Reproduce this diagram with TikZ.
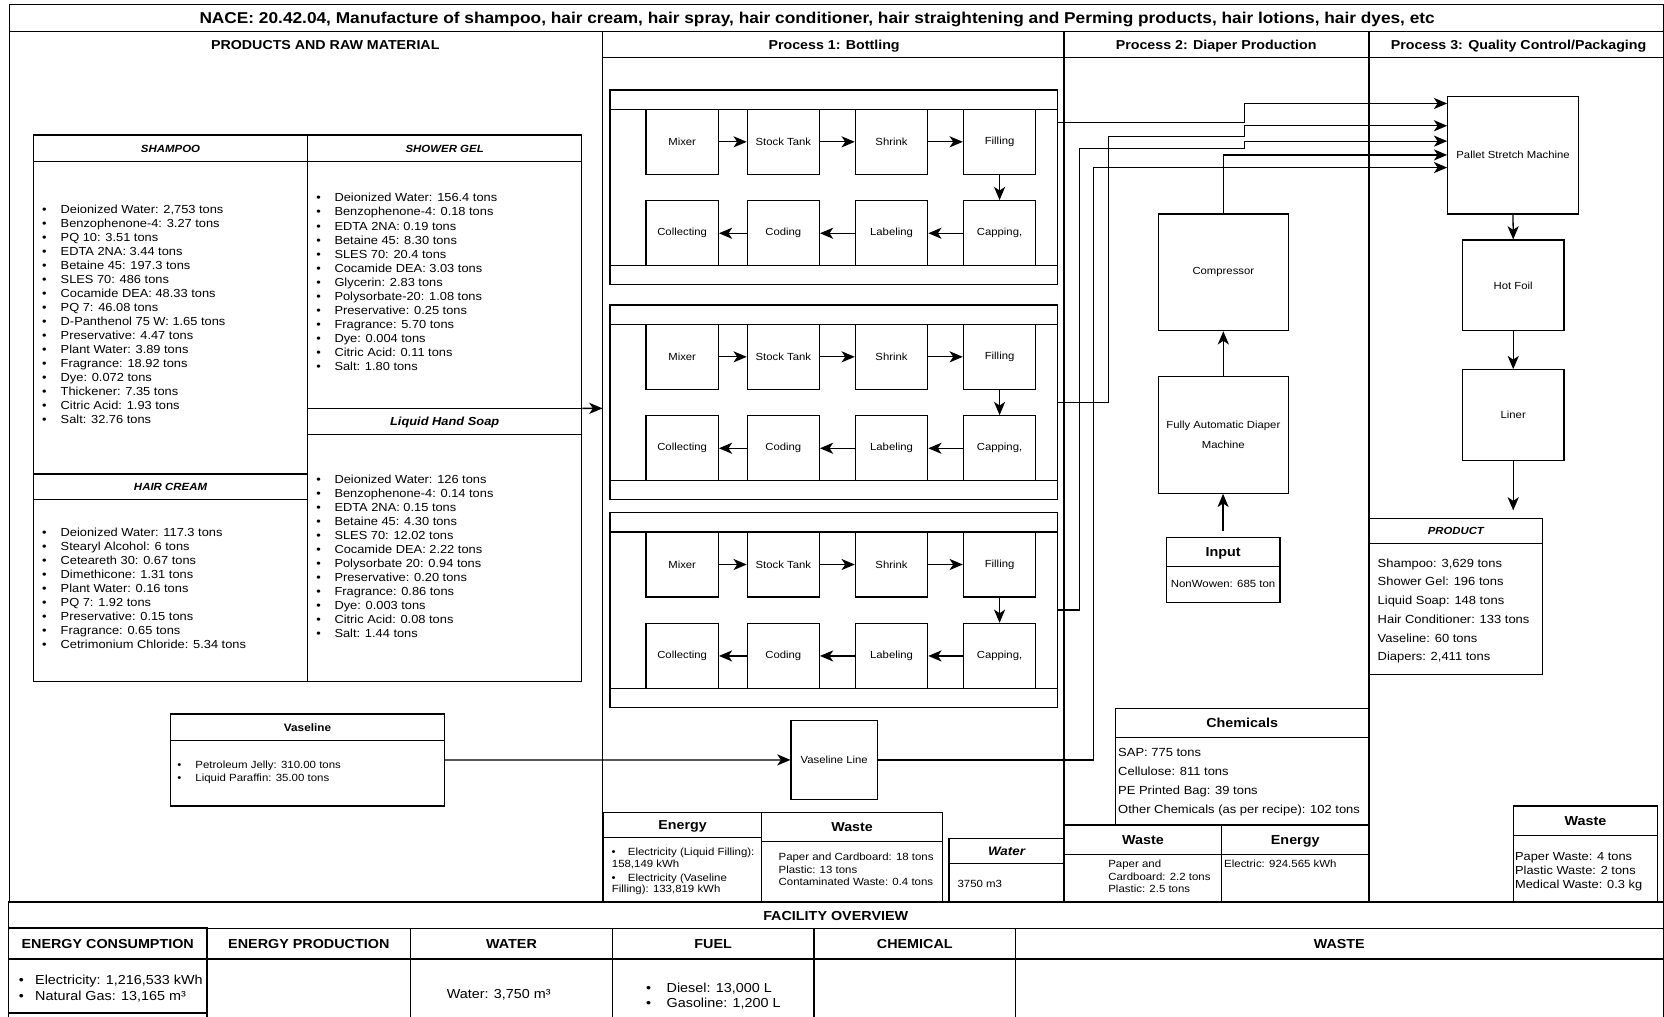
\documentclass[tikz,border=0pt]{standalone}
\usepackage{fontspec}
\setmainfont{Liberation Sans}[FakeStretch=1.1]
\usetikzlibrary{arrows.meta}

\newcommand\fsz[1]{\fontsize{#1}{#1}\selectfont}
% rectangle node from its corners: [opts]{name}{x1}{y1}{x2}{y2}{text}
\newcommand\rbox[7][]{%
  \pgfmathsetmacro\rbw{(#5)-(#3)}\pgfmathsetmacro\rbh{(#6)-(#4)}%
  \pgfmathsetmacro\rbx{((#3)+(#5))/2}\pgfmathsetmacro\rby{((#4)+(#6))/2}%
  \node[box,minimum width=\rbw pt,minimum height=\rbh pt,#1] (#2) at (\rbx,\rby) {#7};}
% one line of text, centred / left aligned on the middle of its capitals
\newcommand\lab[6][]{\node[inner sep=0pt,anchor=base,font=\fsz{#3}#1] (#2) at (#4,{#5+0.36*#3}) {#6};}
\newcommand\labl[6][]{\node[inner sep=0pt,anchor=base west,font=\fsz{#3}#1] (#2) at (#4,{#5+0.36*#3}) {#6};}
% bulleted list: {name}{size}{bullet x}{text x}{first line y}{line step}{items}
\newcommand\blist[7]{%
  \foreach \t [count=\i] in {#7} {%
    \pgfmathsetmacro\rby{#5+0.36*#2+(\i-1)*#6}%
    \node[item,font=\fsz{#2}] (#1-b\i) at (#3,\rby) {\textbullet};
    \node[item,font=\fsz{#2}] (#1-\i) at (#4,\rby) {\t};
  }}
% plain list: {name}{size}{text x}{first line y}{line step}{items}
\newcommand\plist[6]{%
  \foreach \t [count=\i] in {#6} {%
    \pgfmathsetmacro\rby{#4+0.36*#2+(\i-1)*#5}%
    \node[item,font=\fsz{#2}] (#1-\i) at (#3,\rby) {\t};
  }}

\begin{document}
\begin{tikzpicture}[x=1pt,y=-1pt,
  frm/.style={line width=1.2pt},
  ln/.style={line width=1.1pt},
  box/.style={draw,line width=1.1pt,inner sep=0pt,align=center,font=\fsz{9.7}},
  arr/.style={line width=1.2pt,-{Stealth[length=12.5pt,width=10.5pt,inset=3.5pt]}},
  item/.style={inner sep=0pt,anchor=base west},
]
\useasboundingbox (0,0) rectangle (1568,958);

% ---------- frame, title and column headings ----------
\draw[frm] (9,4.4) rectangle (1567.5,850);
\draw[frm] (9,29.9) -- (1567.5,29.9);
\draw[frm] (567.7,29.9) -- (567.7,850) (1002.7,29.9) -- (1002.7,850) (1289.9,29.9) -- (1289.9,850);
\draw[frm] (567.7,54) -- (1567.5,54);
\lab[\bfseries]{title}{14.8}{770}{17.2}{NACE: 20.42.04, Manufacture of shampoo, hair cream, hair spray, hair conditioner, hair straightening and Perming products, hair lotions, hair dyes, etc}
\lab[\bfseries]{hraw}{12.2}{306.5}{42.3}{PRODUCTS AND RAW MATERIAL}
\lab[\bfseries]{hp1}{12.2}{786}{42.3}{Process 1: Bottling}
\lab[\bfseries]{hp2}{12.2}{1146}{42.3}{Process 2: Diaper Production}
\lab[\bfseries]{hp3}{12.2}{1431}{42.3}{Process 3: Quality Control/Packaging}

% ---------- raw material tables ----------
\rbox{rawtab}{31.6}{127.2}{548.3}{642.4}{}
\draw[ln] (289.8,127.2) -- (289.8,642.4);
\draw[ln] (31.6,152.4) -- (548.3,152.4);
\draw[ln] (31.6,446.7) -- (289.8,446.7) (31.6,470.5) -- (289.8,470.5);
\draw[ln] (289.8,384.8) -- (548.3,384.8) (289.8,409.3) -- (548.3,409.3);
\lab[\bfseries\itshape]{tsh}{9.8}{160.7}{139.8}{SHAMPOO}
\lab[\bfseries\itshape]{tsg}{9.8}{419}{139.8}{SHOWER GEL}
\lab[\bfseries\itshape]{thc}{9.8}{160.7}{458.6}{HAIR CREAM}
\lab[\bfseries\itshape]{tls}{11}{419}{397}{Liquid Hand Soap}

\blist{sh}{11}{39.6}{57}{197.3}{13.2}{{Deionized Water: 2,753 tons},{Benzophenone-4: 3.27 tons},{PQ 10: 3.51 tons},{EDTA 2NA: 3.44 tons},{Betaine 45: 197.3 tons},{SLES 70: 486 tons},{Cocamide DEA: 48.33 tons},{PQ 7: 46.08 tons},{D-Panthenol 75 W: 1.65 tons},{Preservative: 4.47 tons},{Plant Water: 3.89 tons},{Fragrance: 18.92 tons},{Dye: 0.072 tons},{Thickener: 7.35 tons},{Citric Acid: 1.93 tons},{Salt: 32.76 tons}}
\blist{sg}{11}{298}{315}{186.3}{13.25}{{Deionized Water: 156.4 tons},{Benzophenone-4: 0.18 tons},{EDTA 2NA: 0.19 tons},{Betaine 45: 8.30 tons},{SLES 70: 20.4 tons},{Cocamide DEA: 3.03 tons},{Glycerin: 2.83 tons},{Polysorbate-20: 1.08 tons},{Preservative: 0.25 tons},{Fragrance: 5.70 tons},{Dye: 0.004 tons},{Citric Acid: 0.11 tons},{Salt: 1.80 tons}}
\blist{hc}{11}{39.6}{57}{501.6}{13.16}{{Deionized Water: 117.3 tons},{Stearyl Alcohol: 6 tons},{Ceteareth 30: 0.67 tons},{Dimethicone: 1.31 tons},{Plant Water: 0.16 tons},{PQ 7: 1.92 tons},{Preservative: 0.15 tons},{Fragrance: 0.65 tons},{Cetrimonium Chloride: 5.34 tons}}
\blist{ls}{11}{298}{315}{451.4}{13.22}{{Deionized Water: 126 tons},{Benzophenone-4: 0.14 tons},{EDTA 2NA: 0.15 tons},{Betaine 45: 4.30 tons},{SLES 70: 12.02 tons},{Cocamide DEA: 2.22 tons},{Polysorbate 20: 0.94 tons},{Preservative: 0.20 tons},{Fragrance: 0.86 tons},{Dye: 0.003 tons},{Citric Acid: 0.08 tons},{Salt: 1.44 tons}}

% Vaseline raw material
\rbox{vastab}{160.6}{672.8}{419}{759.5}{}
\draw[ln] (160.6,698) -- (419,698);
\lab[\bfseries]{tvas}{10.1}{289.8}{685.4}{Vaseline}
\blist{vs}{9.8}{167}{184}{720.2}{12.3}{{Petroleum Jelly: 310.00 tons},{Liquid Paraffin: 35.00 tons}}

% ---------- Process 1: three bottling lines ----------
\foreach \T [count=\k] in {84.8,287.4,483.1} {
  \rbox{lane\k}{574.8}{\T}{996.3}{\T+183.6}{}
  \draw[ln] (574.8,{\T+18.2}) -- (996.3,{\T+18.2}) (574.8,{\T+165.7}) -- (996.3,{\T+165.7});
  \foreach \n/\a/\b/\s in {mix/608.7/676.9/Mixer,stk/704.2/772.1/Stock Tank,shr/806/874.2/Shrink,fil/907.8/976/Filling}
    {\rbox{\n\k}{\a}{\T+18.2}{\b}{\T+79.5}{\s}}
  \foreach \n/\a/\b/\s in {col/608.7/676.9/Collecting,cod/704.2/772.1/Coding,lab/806/874.2/Labeling,cap/907.8/976/{Capping,}}
    {\rbox{\n\k}{\a}{\T+104.3}{\b}{\T+165.7}{\s}}
  \draw[arr] (mix\k) -- (stk\k);
  \draw[arr] (stk\k) -- (shr\k);
  \draw[arr] (shr\k) -- (fil\k);
  \draw[arr] (fil\k) -- (cap\k);
  \draw[arr] (cap\k) -- (lab\k);
  \draw[arr] (lab\k) -- (cod\k);
  \draw[arr] (cod\k) -- (col\k);
}
\rbox{vline}{745.4}{679.1}{826.7}{753}{Vaseline Line}

% Process 1 energy, waste, water
\rbox{en1}{568.8}{765.8}{717.7}{850}{}
\draw[ln] (568.8,789.4) -- (717.7,789.4);
\lab[\bfseries]{ten1}{12.2}{643.2}{777.6}{Energy}
\labl{en1-b1}{9.8}{576.1}{802.6}{\textbullet}
\labl{en1-1}{9.8}{591.5}{802.6}{Electricity (Liquid Filling):}
\labl{en1-2}{9.8}{576.4}{813.5}{158,149 kWh}
\labl{en1-b3}{9.8}{576.1}{826.7}{\textbullet}
\labl{en1-3}{9.8}{591.5}{826.7}{Electricity (Vaseline}
\labl{en1-4}{9.8}{576.4}{837.7}{Filling): 133,819 kWh}

\rbox{ws1}{717.7}{765.5}{888}{850}{}
\draw[ln] (717.7,793.1) -- (888,793.1);
\lab[\bfseries]{tws1}{12.2}{802.9}{779.3}{Waste}
\plist{ws1}{9.8}{733.5}{807.4}{11.75}{{Paper and Cardboard: 18 tons},{Plastic: 13 tons},{Contaminated Waste: 0.4 tons}}

\rbox{wt1}{894.3}{790}{1002.7}{850}{}
\draw[ln] (894.3,813.5) -- (1002.7,813.5);
\lab[\bfseries\itshape]{twt1}{11.5}{948.5}{801.8}{Water}
\labl{wt1-1}{9.8}{902.1}{832.4}{3750 m3}

% ---------- Process 2: diaper line ----------
\rbox{comp}{1091.5}{201.6}{1214}{311.6}{Compressor}
\rbox[font=\fontsize{9.7}{18.5}\selectfont]{fadm}{1091.5}{354.7}{1214}{464.8}{Fully Automatic Diaper\\Machine}
\rbox{inp}{1098.8}{506.2}{1206.2}{567.4}{}
\draw[ln] (1098.8,534.1) -- (1206.2,534.1);
\lab[\bfseries]{tinp}{12.3}{1152.5}{520.4}{Input}
\lab{inp-1}{9.8}{1152.5}{550}{NonWowen: 685 ton}

\rbox{chem}{1051.1}{667.5}{1289.9}{777.4}{}
\draw[ln] (1051.1,695.1) -- (1289.9,695.1);
\lab[\bfseries]{tchem}{12.3}{1170.5}{681.3}{Chemicals}
\plist{chem}{11.1}{1053.5}{709.2}{17.8}{{SAP: 775 tons},{Cellulose: 811 tons},{PE Printed Bag: 39 tons},{Other Chemicals (as per recipe): 102 tons}}

\rbox{ws2}{1002.7}{777.4}{1151.2}{850}{}
\draw[ln] (1002.7,804.8) -- (1151.2,804.8);
\lab[\bfseries]{tws2}{12.3}{1077}{791.1}{Waste}
\plist{ws2}{9.8}{1044.2}{814.2}{11.75}{{Paper and},{Cardboard: 2.2 tons},{Plastic: 2.5 tons}}

\rbox{en2}{1151.2}{777.4}{1289.9}{850}{}
\draw[ln] (1151.2,804.8) -- (1289.9,804.8);
\lab[\bfseries]{ten2}{12.3}{1220.5}{791.1}{Energy}
\labl{en2-1}{9.8}{1153.4}{814.2}{Electric: 924.565 kWh}

% ---------- Process 3: quality control / packaging ----------
\rbox{pallet}{1364.2}{90.9}{1487.3}{201.6}{Pallet Stretch Machine}
\rbox{hot}{1378}{226.2}{1473.8}{311.6}{Hot Foil}
\rbox{liner}{1378}{348.4}{1473.8}{434.2}{Liner}
\coordinate (lnend) at (1425.9,481);

\rbox{prod}{1290.3}{488.3}{1453.4}{635.4}{}
\draw[ln] (1290.3,512.4) -- (1453.4,512.4);
\lab[\bfseries\itshape]{tprod}{9.7}{1371.9}{500.4}{PRODUCT}
\plist{prod}{11.1}{1298}{530.5}{17.66}{{Shampoo: 3,629 tons},{Shower Gel: 196 tons},{Liquid Soap: 148 tons},{Hair Conditioner: 133 tons},{Vaseline: 60 tons},{Diapers: 2,411 tons}}

\rbox{ws3}{1425.8}{759.5}{1562.2}{850}{}
\draw[ln] (1425.8,786.9) -- (1562.2,786.9);
\lab[\bfseries]{tws3}{12.3}{1494}{773.2}{Waste}
\plist{ws3}{11}{1427.5}{806.6}{13.35}{{Paper Waste: 4 tons},{Plastic Waste: 2 tons},{Medical Waste: 0.3 kg}}

% ---------- connectors ----------
\coordinate (p1in) at (567.7,384.8);
\draw[arr] (rawtab.east) -- (p1in);
\draw[arr] (vastab.east) -- (vline.west);
\draw[arr] ([yshift=-31pt]lane1.north east) -| (1172.6,97.5) -- (pallet.west |- 0,97.5);
\draw[arr] (lane2.east) -| (1044.4,128.3) -| (1172.6,118.5) -- (pallet.west |- 0,118.5);
\draw[arr] (lane3.east) -| (1017.1,140) -| (1172.6,133) -- (pallet.west |- 0,133);
\draw[arr] (comp.north) |- (pallet.west |- 0,146);
\draw[arr] (vline.east) -| (1030.3,157.9) -- (pallet.west |- 0,157.9);
\draw[arr] (fadm.north) -- (comp.south);
\draw[arr,shorten <=5pt] (inp.north) -- (inp.north |- fadm.south);
\draw[arr] (pallet.south) -- (hot.north);
\draw[arr] (hot.south) -- (liner.north);
\draw[arr] (liner.south) -- (lnend);

% ---------- facility overview ----------
\draw[frm] (8,958) -- (8,850) -- (1567.5,850) -- (1567.5,958);
\draw[frm] (8,874.8) -- (1567.5,874.8) (8,903.7) -- (1567.5,903.7);
\foreach \x in {195,387,577,767,957} \draw[frm] (\x,874.8) -- (\x,958);
\draw[line width=1.8pt] (8,874.8) rectangle (195,954.9);
\lab[\bfseries]{tfac}{12.3}{787.5}{862.8}{FACILITY OVERVIEW}
\foreach \c/\s [count=\j] in {101.5/ENERGY CONSUMPTION,291/ENERGY PRODUCTION,482/WATER,672/FUEL,862/CHEMICAL,1262/WASTE}
  {\lab[\bfseries]{fh\j}{12.3}{\c}{889.5}{\s}}
\blist{fen}{12.3}{17.6}{33}{923.5}{15.1}{{Electricity: 1,216,533 kWh},{Natural Gas: 13,165 m³}}
\lab{fwat}{12.3}{470}{936.7}{Water: 3,750 m³}
\blist{ffu}{12.3}{608.6}{628}{930.4}{14.4}{{Diesel: 13,000 L},{Gasoline: 1,200 L}}
\end{tikzpicture}
\end{document}
